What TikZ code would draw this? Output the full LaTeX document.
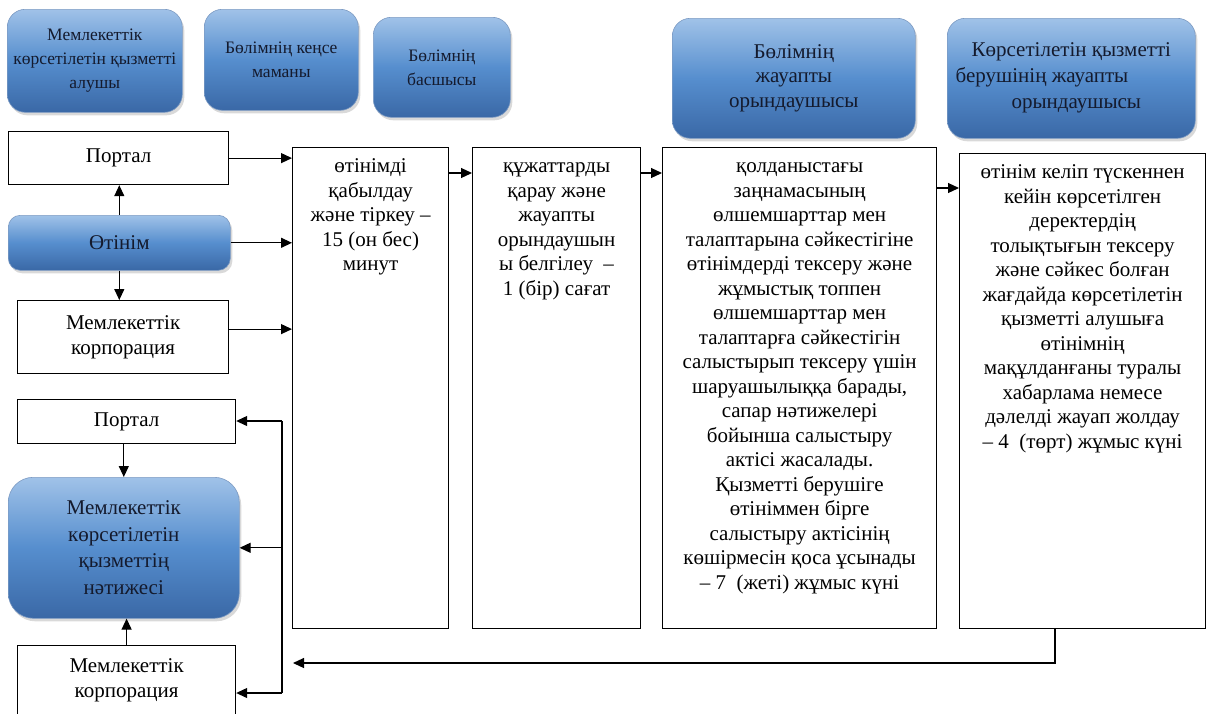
\documentclass[tikz,border=0pt]{standalone}
\usepackage{fontspec}
\setmainfont{Liberation Serif}
\usetikzlibrary{positioning,shadows,arrows.meta}

\definecolor{bluetop}{RGB}{160,194,232}
\definecolor{bluemid}{RGB}{86,142,206}
\definecolor{bluebot}{RGB}{58,104,166}
\definecolor{blueedge}{RGB}{125,155,195}
\definecolor{bluetext}{RGB}{20,26,45}

\newcommand{\steptext}[3]{\parbox[c][#1][t]{#2}{\centering\fontsize{21}{24.5}\selectfont\vspace*{8pt}\strut#3}}

\begin{document}
\begin{tikzpicture}[x=1pt,y=-1pt,line width=1.2pt,>={Triangle[length=11pt,width=10pt]},
    headbox/.style={rounded corners=18pt,draw=blueedge,line width=0.6pt,top color=bluetop,bottom color=bluebot,middle color=bluemid,
        text=bluetext,align=center,anchor=north west,font=\fontsize{17.5}{24}\selectfont,
        drop shadow={shadow xshift=2pt,shadow yshift=-3pt,opacity=0.3}},
    wbox/.style={draw,fill=white,align=center,anchor=north west,font=\fontsize{21}{25}\selectfont},
    stepbox/.style={draw,fill=white,anchor=north west,inner sep=0pt}]
    \useasboundingbox (0,0) rectangle (1209,713);
            \node[headbox, minimum width=175pt, minimum height=103pt] (h_1) at (7,9) {Мемлекеттік\\көрсетілетін қызметті\\алушы};
            \node[headbox, minimum width=154pt, minimum height=101pt] (h_2) at (204,9) {Бөлімнің кеңсе\\маманы};
            \node[headbox, minimum width=137pt, minimum height=100pt] (h_3) at (373,17) {Бөлімнің\\басшысы};
            \node[headbox, font=\fontsize{21}{24.5}\selectfont, minimum width=243pt, minimum height=120pt] (h_4) at (672,18) {Бөлімнің\\жауапты\\орындаушысы};
            \node[headbox, font=\fontsize{21}{26}\selectfont, minimum width=248pt, minimum height=120pt] (h_5) at (947,18) {Көрсетілетін қызметті\\\makebox[114pt][r]{берушінің жауапты}\\\hspace*{10pt}орындаушысы};

            \node[wbox, minimum width=220pt, minimum height=53pt] (p_1) at (8,131) {Портал};
            \node[headbox, rounded corners=12pt, font=\fontsize{21}{25}\selectfont, minimum width=222pt, minimum height=55pt] (o_1) at (8,215) {Өтінім};
            \node[wbox, minimum width=211pt, minimum height=73pt] (k_1) at (17,300) {Мемлекеттік\\корпорация};
            \node[wbox, minimum width=218pt, minimum height=44pt] (p_2) at (17,399) {Портал};
            \node[headbox, rounded corners=25pt, font=\fontsize{21}{26.5}\selectfont, minimum width=231pt, minimum height=141pt] (r_1) at (8,477) {Мемлекеттік\\көрсетілетін\\қызметтің\\нәтижесі};
            \node[wbox, minimum width=218pt, minimum height=70pt] (k_2) at (17,645) {Мемлекеттік\\корпорация};

            \node[stepbox] (s_1) at (292,147) {\steptext{481pt}{156pt}{өтінімді\\қабылдау\\және тіркеу –\\15 (он бес)\\минут}};
            \node[stepbox] (s_2) at (472,147) {\steptext{481pt}{168pt}{құжаттарды\\қарау және\\жауапты\\орындаушын\\ы белгілеу \ –\\1 (бір) сағат}};
            \node[stepbox] (s_3) at (662,147) {\steptext{481pt}{274pt}{қолданыстағы\\заңнамасының\\өлшемшарттар мен\\талаптарына сәйкестігіне\\өтінімдерді тексеру және\\жұмыстық топпен\\өлшемшарттар мен\\талаптарға сәйкестігін\\салыстырып тексеру үшін\\шаруашылыққа барады,\\сапар нәтижелері\\бойынша салыстыру\\актісі жасалады.\\Қызметті берушіге\\өтініммен бірге\\салыстыру актісінің\\көшірмесін қоса ұсынады\\– 7 \ (жеті) жұмыс күні}};
            \node[stepbox] (s_4) at (959,153) {\steptext{475pt}{246pt}{өтінім келіп түскеннен\\кейін көрсетілген\\деректердің\\толықтығын тексеру\\және сәйкес болған\\жағдайда көрсетілетін\\қызметті алушыға\\өтінімнің\\мақұлданғаны туралы\\хабарлама немесе\\дәлелді жауап жолдау\\– 4 \ (төрт) жұмыс күні}};

            \coordinate (a_1) at ([yshift=8pt]k_1.east);
            \coordinate (a_2) at ([yshift=-26pt]s_1.north east);
            \coordinate (a_3) at ([yshift=-26pt]s_2.north east);
            \coordinate (a_4) at ([yshift=-41pt]s_3.north east);
            \coordinate (f_1) at ([xshift=96pt]s_4.south west);
            \coordinate (f_2) at (293,663);
            \coordinate (b_1) at (282,421);
            \coordinate (b_2) at (282,693);

            \path[->]
                (o_1.north) edge (o_1.north |- p_1.south)
                (o_1.south) edge (o_1.south |- k_1.north)
                (p_1.east) edge (p_1.east -| s_1.west)
                (o_1.east) edge (o_1.east -| s_1.west)
                (a_1) edge (a_1 -| s_1.west)
                (a_2) edge (a_2 -| s_2.west)
                (a_3) edge (a_3 -| s_3.west)
                (a_4) edge (a_4 -| s_4.west)
                (r_1.north |- p_2.south) edge (r_1.north)
                (k_2.north) edge (k_2.north |- r_1.south)
                (b_1) edge (b_1 -| p_2.east)
                (b_1 |- r_1.east) edge (r_1.east)
                (b_2) edge (b_2 -| k_2.east);
            \draw (b_1) -- (b_2);
            \draw[->] (f_1) |- (f_2);
        \end{tikzpicture}
\end{document}
